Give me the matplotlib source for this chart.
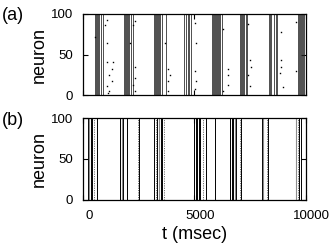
import matplotlib
matplotlib.use('Agg')
import matplotlib.pyplot as plt
import matplotlib.transforms as mtransforms

plt.rcParams['font.family'] = ['Liberation Sans', 'DejaVu Sans']

# (a) 同步放电时刻 (msec)
a_sync = [560, 605, 650, 695, 740, 807, 910,
          1838, 1883, 1928, 1973, 2018, 2063, 2139, 2229,
          3197, 3242, 3287, 3332, 3377, 3422, 3466, 3556, 3708,
          4542, 4605, 4695, 4753, 4843,
          5771, 5816, 5861, 5906, 5951, 5996, 6040, 6085, 6130, 6246,
          7040, 7085, 7144, 7189, 7251, 7309, 7367,
          8340, 8399, 8461, 8578, 8686, 8730,
          9663, 9708, 9753, 9797, 9842, 9887, 9932]

# (a) 零散放电 (时刻, 神经元)
a_spike_t = [1063, 986, 1063, 1063, 1359, 1287, 1166, 1287, 1063, 1166, 1121, 516,
             2332, 2255, 2108, 2332, 2332, 2255, 2332,
             3825, 3901, 3825, 3825, 3677,
             5022, 5067, 5022, 5067, 5022,
             6291, 6515, 6515, 6515, 6291,
             7412, 7488, 7564, 7412, 7488,
             8910, 8910, 8910, 8833, 8968,
             9551, 9551]
a_spike_n = [93, 86, 64, 41, 41, 33, 25, 18, 12, 6, 3, 72,
             91, 86, 64, 35, 22, 13, 6,
             33, 25, 18, 6, 64,
             89, 64, 30, 18, 8,
             81, 33, 25, 13, 6,
             88, 43, 35, 25, 12,
             78, 43, 35, 27, 10,
             90, 30]

# (b) 同步放电时刻 (msec)
b_sync = [224, 359, 417, 614, 1659, 1807, 1960, 2511,
          3197, 3332, 3484, 3556, 4977, 5067, 5134, 5201, 5269,
          5502, 5919, 6591, 6668, 6740, 6892, 7116, 8040, 8309,
          9708, 9807]
b_sync_gray = [282, 1735, 3408, 6820, 8103, 9583]
b_partial = [493, 2453, 3260, 3632, 5390, 7040, 8251, 9646]

xticks = [0, 5000, 10000]
yticks = [0, 50, 100]

fig = plt.figure(figsize=(3.31, 2.49), dpi=100)
ax_a = fig.add_axes([0.2508, 0.6165, 0.6728, 0.3273])
ax_b = fig.add_axes([0.2508, 0.1968, 0.6728, 0.3293])

ax_a.vlines(a_sync, 0, 100, color='0.12', lw=0.55)
ax_a.plot(a_spike_t, a_spike_n, ls='none', marker='s', ms=1.0, mec='none', mfc='k')

ax_b.vlines(b_sync, 0, 100, color='k', lw=0.7)
ax_b.vlines(b_sync_gray, 0, 100, color='0.55', lw=0.8)
ax_b.vlines(b_partial, 0, 100, color='0.45', lw=0.7, linestyles=(0, (1.2, 1.2)))

offset = mtransforms.ScaledTranslation(6 / 100, 0, fig.dpi_scale_trans)
for ax in [ax_a, ax_b]:
    ax.set_xlim(0, 10000)
    ax.set_ylim(0, 100)
    ax.set_yticks(yticks)
    ax.set_xticks(xticks)
    ax.tick_params(direction='in', length=3.5, width=0.8, top=True, right=True,
                   labelsize=9.5, pad=7)
    for s in ax.spines.values():
        s.set_linewidth(0.9)
    ax.set_ylabel('neuron', fontsize=13, labelpad=2)

fig.text(0.006, 0.936, '(a)', fontsize=13, ha='left', va='center')
fig.text(0.006, 0.518, '(b)', fontsize=13, ha='left', va='center')

ax_a.set_xticklabels([])
for lab in ax_b.get_xticklabels():
    lab.set_transform(lab.get_transform() + offset)
ax_b.set_xlabel('t (msec)', fontsize=13, labelpad=3)

plt.savefig('out.png', dpi=100)
plt.close()
